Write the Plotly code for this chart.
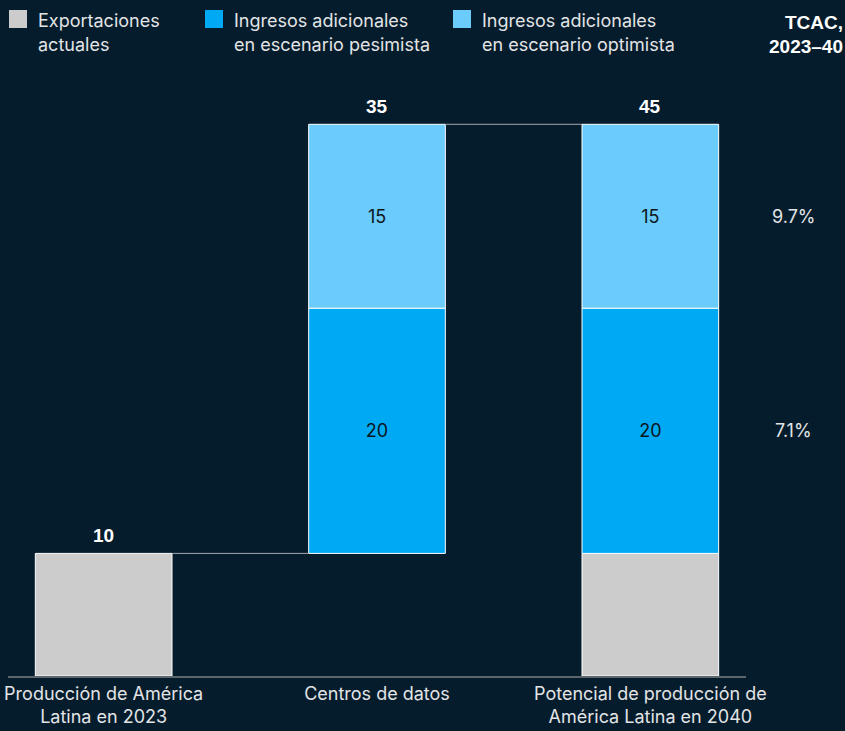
import plotly.graph_objects as go

# --- data ---------------------------------------------------------------
categories = [
    "Producción de América<br>Latina en 2023",
    "Centros de datos",
    "Potencial de producción de<br>América Latina en 2040",
]
exports_cats = [categories[0], categories[2]]
exports_vals = [10, 10]

uplift_cats = [categories[1], categories[2]]
pessimist_vals = [20, 20]
optimist_vals = [15, 15]

total_labels = ["10", "35", "45"]
cagr_labels = ["9.7%", "7.1%"]

legend_names = [
    ["Exportaciones", "actuales"],
    ["Ingresos adicionales", "en escenario pesimista"],
    ["Ingresos adicionales", "en escenario optimista"],
]

# --- style --------------------------------------------------------------
BG = "#051C2C"
GREY = "#CCCCCC"
BLUE = "#00A9F4"
LIGHT = "#6BCBFA"
TEXT = "#E2E4E6"
FONT = "Inter, Liberation Sans, Arial, sans-serif"
BOLD_FONT = "Liberation Sans, Arial, sans-serif"

W, H = 845, 731
ML, MR, MT, MB = 8, 99, 63, 55
PW, PH = W - ML - MR, H - MT - MB


def px_x(x):
    return (x - ML) / PW


def px_y(y):
    return (H - MB - y) / PH


pess_base = exports_vals
opt_base = [b + v for b, v in zip(pess_base, pessimist_vals)]
tops = [exports_vals[0], opt_base[0] + optimist_vals[0], opt_base[1] + optimist_vals[1]]

bar_line = dict(color="white", width=1)
inner_font = dict(family=FONT, size=18, color="#0B1620")

fig = go.Figure()
fig.add_trace(go.Bar(
    x=exports_cats, y=exports_vals, base=[0, 0], width=0.5,
    marker=dict(color=GREY, line=bar_line), name="Exportaciones actuales",
    showlegend=False, hoverinfo="skip",
))
fig.add_trace(go.Bar(
    x=uplift_cats, y=pessimist_vals, base=pess_base, width=0.5,
    marker=dict(color=BLUE, line=bar_line), name="Ingresos adicionales en escenario pesimista",
    text=[str(v) for v in pessimist_vals], textposition="inside",
    insidetextanchor="middle", textfont=inner_font, textangle=0,
    showlegend=False, hoverinfo="skip",
))
fig.add_trace(go.Bar(
    x=uplift_cats, y=optimist_vals, base=opt_base, width=0.5,
    marker=dict(color=LIGHT, line=bar_line), name="Ingresos adicionales en escenario optimista",
    text=[str(v) for v in optimist_vals], textposition="inside",
    insidetextanchor="middle", textfont=inner_font, textangle=0,
    showlegend=False, hoverinfo="skip",
))

annotations = []
# totals above each column
for cat, top, lab in zip(categories, tops, total_labels):
    annotations.append(dict(
        x=cat, y=top, xref="x", yref="y", text=f"<b>{lab}</b>", showarrow=False,
        yanchor="bottom", yshift=5, font=dict(family=BOLD_FONT, size=19, color="white"),
    ))

# growth-rate column on the right
cagr_y = [opt_base[1] + optimist_vals[1] / 2, pess_base[1] + pessimist_vals[1] / 2]
for yv, lab in zip(cagr_y, cagr_labels):
    annotations.append(dict(
        x=px_x(794), y=yv, xref="paper", yref="y", text=lab, showarrow=False,
        xanchor="center", yanchor="middle", font=dict(family=FONT, size=18, color=TEXT),
    ))
for yy, line in zip([23, 47], ["TCAC,", "2023–40"]):
    annotations.append(dict(
        x=px_x(845), y=px_y(yy), xref="paper", yref="paper", text=f"<b>{line}</b>",
        showarrow=False, xanchor="right", yanchor="middle",
        font=dict(family=BOLD_FONT, size=19, color="white"),
    ))

# legend drawn as swatches plus two-line labels
shapes = []
swatch_x = [9, 205, 453]
for sx, color, lines in zip(swatch_x, [GREY, BLUE, LIGHT], legend_names):
    shapes.append(dict(
        type="rect", xref="paper", yref="paper",
        x0=px_x(sx), x1=px_x(sx + 18), y0=px_y(28), y1=px_y(10),
        fillcolor=color, line=dict(width=0),
    ))
    for yy, line in zip([20, 45], lines):
        annotations.append(dict(
            x=px_x(sx + 27), y=px_y(yy), xref="paper", yref="paper", text=line,
            showarrow=False, xanchor="left", yanchor="middle",
            font=dict(family=FONT, size=18, color=TEXT),
        ))

# connectors between columns
conn_color = "#A3A8AD"
shapes.append(dict(type="line", xref="x", yref="y", x0=0.25, x1=0.75,
                   y0=exports_vals[0], y1=exports_vals[0], line=dict(color=conn_color, width=1)))
shapes.append(dict(type="line", xref="x", yref="y", x0=1.25, x1=1.75,
                   y0=tops[1], y1=tops[1], line=dict(color=conn_color, width=1)))

fig.update_layout(
    width=W, height=H,
    margin=dict(l=ML, r=MR, t=MT, b=MB, pad=0, autoexpand=False),
    paper_bgcolor=BG, plot_bgcolor=BG,
    barmode="overlay",
    showlegend=False,
    annotations=annotations,
    shapes=shapes,
    font=dict(family=FONT, size=18, color=TEXT),
)
fig.update_xaxes(
    type="category", categoryorder="array", categoryarray=categories,
    range=[-0.35, 2.35], showgrid=False, zeroline=False, automargin=False,
    showline=True, linecolor="#5E666D", linewidth=2,
    ticks="", tickfont=dict(family=FONT, size=18, color=TEXT),
)
fig.update_yaxes(range=[0, 50], showgrid=False, zeroline=False, automargin=False,
                 showticklabels=False, showline=False)

fig.write_html("out.html")
